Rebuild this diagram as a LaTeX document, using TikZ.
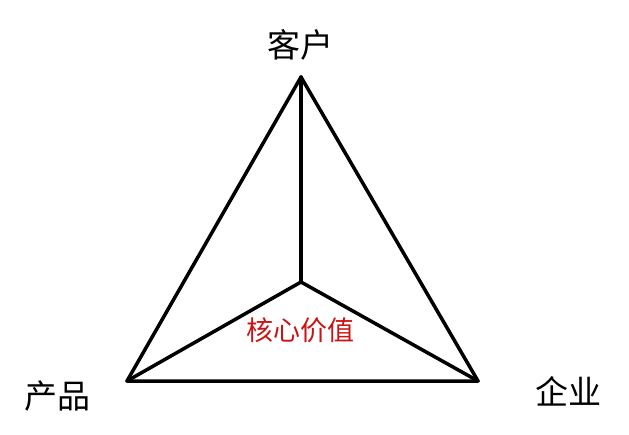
\documentclass[tikz,border=0pt]{standalone}
\usepackage{fontspec}
\newfontfamily\cjk{Noto Sans CJK SC}
\definecolor{corered}{RGB}{200,20,20}
\tikzset{
  edge/.style={line width=3.5pt, line join=round, line cap=round, black},
  lbl/.style={font=\cjk\fontsize{33}{36}\selectfont, inner sep=0pt},
  corelbl/.style={font=\cjk\fontsize{27}{30}\selectfont, text=corered, inner sep=0pt},
}
\begin{document}
\begin{tikzpicture}[x=1pt,y=-1pt]
\useasboundingbox (0,0) rectangle (629,434);
\coordinate (top) at (301,77);
\coordinate (left) at (127,381);
\coordinate (right) at (478,381);
\coordinate (center) at (301,282);
\draw[edge] (top) -- (left) -- (right) -- cycle;
\draw[edge] (top) -- (center);
\draw[edge] (left) -- (center) -- (right);
\node[lbl] (kehu) at (300,45) {客户};
\node[lbl] (chanpin) at (57,396) {产品};
\node[lbl] (qiye) at (568,391) {企业};
\node[corelbl] (hexin) at (300,330) {核心价值};
\end{tikzpicture}
\end{document}
